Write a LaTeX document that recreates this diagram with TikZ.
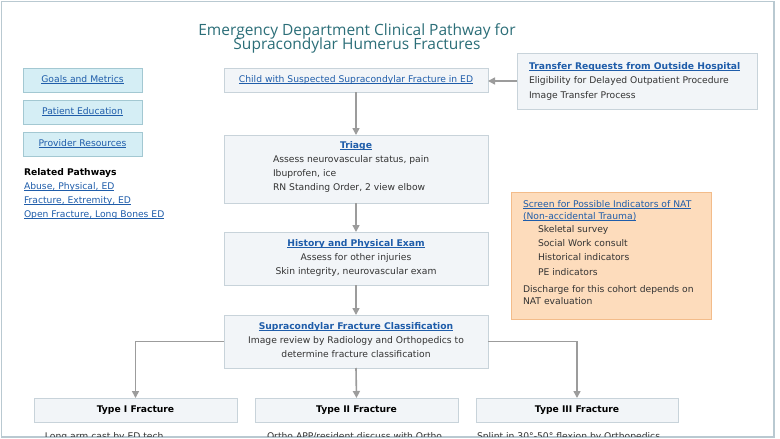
\documentclass[tikz,border=0pt]{standalone}
\usepackage{fontspec}
\setmainfont{DejaVu Sans}
\newfontfamily\titlefont{Open Sans}
\usetikzlibrary{arrows.meta}
\definecolor{frame}{HTML}{B9C9D1}
\definecolor{boxfill}{HTML}{F2F5F8}
\definecolor{boxline}{HTML}{C8D3DA}
\definecolor{btnfill}{HTML}{D5EEF5}
\definecolor{btnline}{HTML}{A3C8D2}
\definecolor{natfill}{HTML}{FDDCBC}
\definecolor{natline}{HTML}{F3BC8A}
\definecolor{linkblue}{HTML}{1F5DAA}
\definecolor{txt}{HTML}{333333}
\definecolor{titlecol}{HTML}{2B6E78}
\definecolor{arrowcol}{HTML}{9C9C9C}
\newcommand{\lnk}[1]{{\color{linkblue}\setbox0\hbox{#1}\rlap{\rule[-1.2pt]{\wd0}{0.6pt}}\box0}}
\newcommand{\blnk}[1]{\lnk{\bfseries #1}}
\begin{document}
\begin{tikzpicture}[x=1pt,y=-1pt,
  every node/.style={inner sep=0pt,outer sep=0pt,font=\fontsize{9.2}{11}\selectfont,text=txt},
  box/.style={draw=boxline,fill=boxfill,line width=1pt},
  btn/.style={draw=btnline,fill=btnfill,line width=1pt},
  natbox/.style={draw=natline,fill=natfill,line width=1pt},
  arr/.style={draw=arrowcol,line width=1.6pt,-{Triangle[width=7pt,length=7pt]}},
  lbl/.style={anchor=mid},
  lbll/.style={anchor=mid west},
  ttl/.style={font=\titlefont\fontsize{15.5}{18}\selectfont,text=titlecol,anchor=mid},
  bold/.style={font=\fontsize{9.2}{11}\selectfont\bfseries,text=black}]
\useasboundingbox (0,0) rectangle (780,439);
\fill[white] (0,0) rectangle (780,439);
\draw[frame,line width=1.5pt] (1.5,1.5) rectangle (774,437);

% title
\node[ttl] (t1) at (357,32.5) {Emergency Department Clinical Pathway for};
\node[ttl] (t2) at (357,47) {Supracondylar Humerus Fractures};

% left buttons
\node[btn,minimum width=119pt,minimum height=24pt] (goals) at (82.5,80) {};
\node[lbl] (goalsT) at (goals.center) {\lnk{Goals and Metrics}};
\node[btn,minimum width=119pt,minimum height=24pt] (pated) at (82.5,112) {};
\node[lbl] (patedT) at (pated.center) {\lnk{Patient Education}};
\node[btn,minimum width=119pt,minimum height=24pt] (prov) at (82.5,144) {};
\node[lbl] (provT) at (prov.center) {\lnk{Provider Resources}};

\node[lbll,bold] (rel) at (24,173) {Related Pathways};
\node[lbll] (rel1) at (24,187) {\lnk{Abuse, Physical, ED}};
\node[lbll] (rel2) at (24,201) {\lnk{Fracture, Extremity, ED}};
\node[lbll] (rel3) at (24,215) {\lnk{Open Fracture, Long Bones ED}};

% main column
\node[box,minimum width=264pt,minimum height=24pt] (child) at (356,80) {};
\node[lbl] (childT) at (child.center) {\lnk{Child with Suspected Supracondylar Fracture in ED}};

\node[box,minimum width=264pt,minimum height=68pt] (triage) at (356,169) {};
\node[lbl] (triT) at (356,146) {\blnk{Triage}};
\node[lbll] (tri1) at (273,160) {Assess neurovascular status, pain};
\node[lbll] (tri2) at (273,174) {Ibuprofen, ice};
\node[lbll] (tri3) at (273,188) {RN Standing Order, 2 view elbow};

\node[box,minimum width=264pt,minimum height=53pt] (hp) at (356,258.5) {};
\node[lbl] (hpT) at (356,244) {\blnk{History and Physical Exam}};
\node[lbl] (hp1) at (356,258) {Assess for other injuries};
\node[lbl] (hp2) at (356,272) {Skin integrity, neurovascular exam};

\node[box,minimum width=264pt,minimum height=53pt] (cls) at (356,341.5) {};
\node[lbl] (clsT) at (356,327) {\blnk{Supracondylar Fracture Classification}};
\node[lbl] (cls1) at (356,341) {Image review by Radiology and Orthopedics to};
\node[lbl] (cls2) at (356,355) {determine fracture classification};

% transfer box
\node[box,minimum width=240pt,minimum height=56pt] (trans) at (637,81) {};
\node[lbll] (transT) at (529,67) {\blnk{Transfer Requests from Outside Hospital}};
\node[lbll] (trans1) at (529,81) {Eligibility for Delayed Outpatient Procedure};
\node[lbll] (trans2) at (529,96) {Image Transfer Process};

% NAT box
\node[natbox,minimum width=200pt,minimum height=127pt] (nat) at (611,255.5) {};
\node[lbll] (natT1) at (523,205) {\lnk{Screen for Possible Indicators of NAT}};
\node[lbll] (natT2) at (523,217) {\lnk{(Non-accidental Trauma)}};
\node[lbll] (nat1) at (538,230) {Skeletal survey};
\node[lbll] (nat2) at (538,244) {Social Work consult};
\node[lbll] (nat3) at (538,258) {Historical indicators};
\node[lbll] (nat4) at (538,273) {PE indicators};
\node[lbll] (nat5) at (523,290) {Discharge for this cohort depends on};
\node[lbll] (nat6) at (523,302) {NAT evaluation};

% type boxes
\node[box,minimum width=203pt,minimum height=24pt] (ty1) at (135.5,410) {};
\node[lbl,bold] (ty1T) at (ty1.center) {Type I Fracture};
\node[box,minimum width=203pt,minimum height=24pt] (ty2) at (356.5,410) {};
\node[lbl,bold] (ty2T) at (ty2.center) {Type II Fracture};
\node[box,minimum width=202pt,minimum height=24pt] (ty3) at (577,410) {};
\node[lbl,bold] (ty3T) at (ty3.center) {Type III Fracture};

\begin{scope}
\clip (0,0) rectangle (780,436.5);
\node[anchor=base west] (ty1b) at (45,439) {Long arm cast by ED tech};
\node[anchor=base west] (ty2b) at (267,439) {Ortho APP/resident discuss with Ortho};
\node[anchor=base west] (ty3b) at (477,439) {Splint in 30°-50° flexion by Orthopedics};
\end{scope}

% connectors
\draw[arr] (trans.west) -- (child.east |- trans.west);
\draw[arr] (child.south) -- (triage.north);
\draw[arr] (triage.south) -- (hp.north);
\draw[arr] (hp.south) -- (cls.north);
\draw[arr] (cls.west) -| (ty1.north);
\draw[arr] (cls.south) -- (ty2.north);
\draw[arr] (cls.east) -| (ty3.north);
\end{tikzpicture}
\end{document}
